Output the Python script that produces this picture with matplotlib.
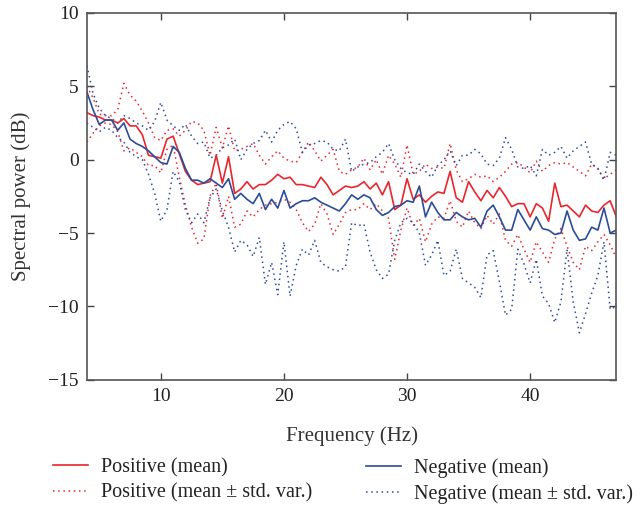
import numpy as np
import matplotlib
matplotlib.use("Agg")
import matplotlib.pyplot as plt

# frequency bins (Hz), 0.5 Hz resolution
freq = np.arange(4, 47.01, 0.5)

# Positive group, mean spectral power (dB)
pos_mean = [3.2, 3.0, 2.9, 2.7, 2.7, 2.5, 2.8, 2.3, 2.3, 1.7, 0.3, 0.2, 0.1, 1.4, 1.6, 0.4,   # 4 - 11.5
            -0.8, -1.4, -1.7, -1.6, -1.5, 0.3, -1.6, 0.2, -2.3, -2.0, -1.5, -2.0, -1.7, -1.7,  # 12 - 18.5
            -1.4, -1.0, -1.3, -1.2, -1.7, -1.7, -1.8, -1.9, -1.2, -1.7, -2.4, -2.1, -1.8, -1.9,  # 19 - 25.5
            -1.8, -1.5, -2.0, -1.6, -2.4, -1.5, -3.4, -3.1, -1.3, -2.7, -2.4, -2.9, -2.5, -2.2, -2.3, -0.8,  # 26 - 33.5
            -2.6, -2.9, -1.5, -2.2, -2.8, -2.1, -2.6, -1.9, -2.5, -3.2, -3.0, -3.0, -3.9, -3.0,  # 34 - 40.5
            -3.3, -4.2, -1.6, -3.2, -3.1, -3.5, -3.9, -3.1, -3.5, -3.6, -3.1, -2.8, -3.9]  # 41 - 47
pos_upper = [5.0, 4.2, 3.1, 3.0, 3.0, 3.4, 5.2, 4.4, 4.0, 3.3, 2.5, 1.5, 1.3, 2.0, 2.1, 1.6,
             2.0, 2.6, 2.5, 2.0, 0.3, 2.2, 0.8, 2.3, 0.6, 0.7, 0.9, 1.1, 0.3, -0.3,
             0.2, 0.6, 0.1, -0.1, -0.2, 0.5, 1.2, 0.6, -0.1, 0.3, 0.7, -0.8, -1.0, -0.7,
             -0.5, 0.1, -0.7, 0.0, -1.0, 0.3, -0.3, -1.2, 1.0, -1.0, -0.8, -0.3, -0.6, -0.5, -0.6, 1.1,
             -0.7, -1.5, -1.3, -1.0, -1.2, -1.1, -1.5, -1.2, -0.8, -0.3, -0.2, -0.5, -0.9, -0.1,
             -0.8, -0.4, -0.2, -0.3, -0.2, -0.5, -0.8, -1.1, -0.3, -0.6, -1.3, -1.0, -0.7]
pos_lower = [1.2, 1.8, 2.3, 2.5, 2.4, 1.9, 0.6, 0.8, 0.5, 0.2, -0.4, -0.4, -0.9, 0.7, 1.0, -1.2,
             -3.1, -4.6, -5.7, -5.4, -2.5, -1.6, -4.0, -2.5, -4.6, -4.4, -3.5, -3.9, -3.4, -3.1,
             -3.0, -2.9, -2.7, -2.9, -3.4, -4.3, -4.9, -4.4, -3.0, -3.7, -5.1, -4.4, -3.6, -3.4,
             -3.4, -3.0, -3.4, -3.0, -3.5, -4.0, -6.8, -4.8, -3.3, -4.5, -4.0, -5.6, -4.4, -3.9, -4.0, -2.8,
             -4.2, -4.6, -3.5, -4.3, -4.7, -3.8, -4.4, -3.7, -5.5, -5.9, -5.1, -6.1, -7.0, -5.6,
             -6.3, -7.0, -5.4, -4.7, -5.9, -7.0, -7.5, -5.9, -6.2, -5.6, -5.1, -5.8, -6.7]

# Negative group
neg_mean = [4.6, 3.4, 2.4, 2.7, 2.7, 2.0, 2.5, 1.4, 1.1, 0.9, 0.6, 0.2, -0.2, -0.3, 0.9, 0.5,
            -0.6, -1.4, -1.4, -1.6, -1.3, -1.6, -1.9, -1.3, -2.7, -2.3, -2.7, -3.0, -2.3, -3.4,
            -2.7, -3.3, -2.1, -3.3, -3.0, -2.8, -2.8, -2.6, -2.9, -3.1, -3.3, -3.5, -3.0, -2.4,
            -2.7, -2.4, -2.6, -3.4, -3.8, -3.6, -3.2, -3.1, -2.8, -2.9, -1.8, -3.9, -2.9, -3.6, -4.1, -4.1,
            -3.6, -3.9, -4.1, -4.0, -4.6, -3.5, -3.1, -3.9, -4.8, -4.8, -3.4, -4.1, -4.8, -3.9,
            -4.7, -4.8, -5.1, -5.0, -3.5, -4.8, -5.5, -5.4, -4.6, -4.8, -3.3, -5.0, -4.8]
neg_upper = [6.4, 4.5, 3.5, 3.0, 2.8, 2.5, 3.0, 2.8, 2.5, 2.3, 2.0, 2.6, 3.9, 2.7, 2.3, 2.0,
             2.4, 1.6, 1.1, 1.2, 0.1, 0.3, 0.8, 1.0, 1.4, 0.0, 0.7, 1.1, 1.3, 2.0,
             1.2, 2.0, 2.4, 2.6, 2.1, 0.5, 1.0, 1.1, 1.3, 1.2, 0.7, 0.6, 1.4, -0.8,
             -0.5, -0.3, -0.2, 0.2, 0.5, 1.1, 0.0, -0.6, -0.9, -1.0, -0.3, -0.8, -1.2, -0.4, 0.0, 0.6,
             -0.4, 0.3, 0.3, 0.7, 0.4, -0.3, -0.4, 0.1, 1.5, 0.7, -0.5, -0.6, -0.4, -1.1,
             0.7, 0.3, 0.5, 0.9, 0.1, 0.6, 0.9, 1.2, -0.3, -0.6, -1.4, 0.5, 0.3]
neg_lower = [2.5, 2.2, 1.9, 2.2, 2.0, 1.5, 1.2, 0.5, 0.2, 0.0, -1.0, -2.3, -4.2, -3.4, -0.8, -1.5,
             -3.4, -4.3, -3.7, -4.3, -2.6, -2.0, -3.5, -4.6, -6.3, -5.5, -5.8, -6.6, -5.3, -8.5,
             -7.0, -9.2, -5.6, -9.3, -7.2, -6.1, -6.5, -5.5, -7.0, -7.3, -7.5, -7.6, -7.3, -4.3,
             -4.5, -4.4, -6.3, -7.5, -8.1, -7.8, -5.5, -4.3, -4.0, -4.3, -5.0, -7.2, -6.5, -5.5, -7.9, -7.6,
             -6.1, -8.1, -8.4, -8.7, -9.4, -6.5, -6.2, -8.3, -10.6, -10.2, -6.1, -7.1, -8.4, -6.8,
             -9.3, -9.8, -11.1, -9.7, -6.1, -9.7, -11.8, -10.5, -9.1, -7.9, -5.6, -10.2, -10.0]

red = '#e8262d'
blue = '#2b4c9b'
dots = (0, (1, 2.4))

plt.rcParams['font.family'] = ['Liberation Serif', 'DejaVu Serif']

fig = plt.figure(figsize=(6.44, 5.16), dpi=100)
ax = fig.add_axes([0.135, 0.264, 0.822, 0.711])

# dotted bounds first, mean lines on top
ax.plot(freq, pos_upper, color=red, lw=1.1, ls=dots)
ax.plot(freq, pos_lower, color=red, lw=1.1, ls=dots)
ax.plot(freq, neg_upper, color=blue, lw=1.1, ls=dots)
ax.plot(freq, neg_lower, color=blue, lw=1.1, ls=dots)
l1, = ax.plot(freq, pos_mean, color=red, lw=1.2)
l3, = ax.plot(freq, neg_mean, color=blue, lw=1.2)

ax.set_xlim(4, 47)
ax.set_ylim(-15, 10)
ax.set_xticks([10, 20, 30, 40])
ax.set_yticks([-15, -10, -5, 0, 5, 10])
ax.tick_params(direction='in', length=5, width=1, top=True, right=True,
               labelsize=14, colors='#444444', labelcolor='#222222', pad=6)
for s in ax.spines.values():
    s.set_color('#555555')
    s.set_linewidth(1.2)

ax.set_xlabel('Frequency (Hz)', fontsize=15, color='#333333', labelpad=15)
ax.set_ylabel('Spectral power (dB)', fontsize=15, color='#333333', labelpad=12)

# legend proxies, two separate columns
h2, = ax.plot([], [], color=red, lw=1.1, ls=dots)
h4, = ax.plot([], [], color=blue, lw=1.1, ls=dots)
leg_kw = dict(loc='upper left', frameon=False, fontsize=14.5, handlelength=1.75,
              handletextpad=0.65, labelspacing=0.3, borderpad=0, borderaxespad=0,
              labelcolor='#222222')
fig.legend([l1, h2], ['Positive (mean)', 'Positive (mean \u00b1 std. var.)'],
           bbox_to_anchor=(0.082, 0.112), **leg_kw)
fig.legend([l3, h4], ['Negative (mean)', 'Negative (mean \u00b1 std. var.)'],
           bbox_to_anchor=(0.568, 0.112), **leg_kw)

fig.savefig('out.png', dpi=100)
